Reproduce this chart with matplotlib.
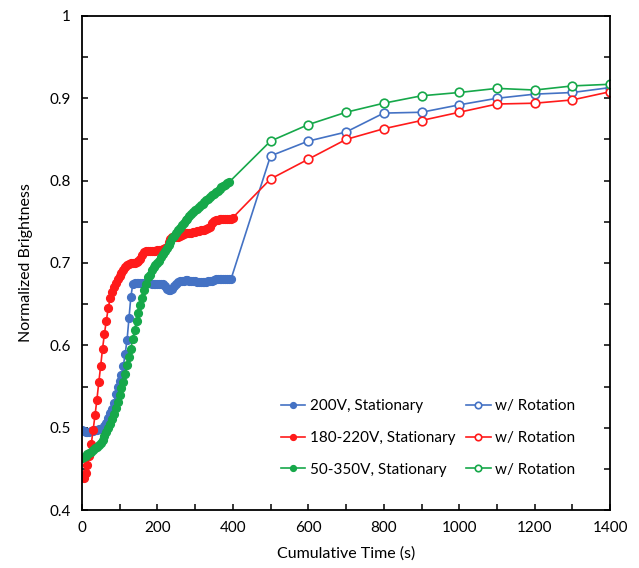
import matplotlib.pyplot as plt
import numpy as np
from matplotlib.ticker import MultipleLocator, FuncFormatter

plt.rcParams['font.family'] = ['Lato', 'DejaVu Sans']

# stationary runs, one reading every 5 s
t_200 = np.arange(0, 400, 5)
v_200 = [0.497, 0.496, 0.495, 0.495, 0.495, 0.496, 0.496, 0.497, 0.497, 0.498,
         0.498, 0.499, 0.502, 0.506, 0.512, 0.518, 0.523, 0.530, 0.541, 0.550,
         0.557, 0.564, 0.575, 0.590, 0.607, 0.633, 0.659, 0.674, 0.676, 0.676,
         0.676, 0.676, 0.676, 0.676, 0.676, 0.676, 0.676, 0.675, 0.675, 0.675,
         0.675, 0.675, 0.675, 0.675, 0.672, 0.669, 0.667, 0.667, 0.669, 0.672,
         0.675, 0.677, 0.678, 0.678, 0.678, 0.679, 0.679, 0.678, 0.678, 0.678,
         0.678, 0.677, 0.677, 0.677, 0.677, 0.677, 0.677, 0.678, 0.678, 0.678,
         0.679, 0.680, 0.680, 0.680, 0.680, 0.680, 0.680, 0.680, 0.680, 0.680]

t_180 = np.arange(5, 405, 5)
v_180 = [0.439, 0.445, 0.455, 0.466, 0.480, 0.497, 0.515, 0.534, 0.555, 0.575,
         0.596, 0.614, 0.630, 0.645, 0.657, 0.665, 0.671, 0.676, 0.680, 0.684,
         0.688, 0.692, 0.695, 0.697, 0.699, 0.700, 0.700, 0.700, 0.701, 0.702,
         0.705, 0.710, 0.713, 0.714, 0.715, 0.715, 0.715, 0.715, 0.715, 0.716,
         0.716, 0.716, 0.717, 0.718, 0.720, 0.725, 0.729, 0.731, 0.731, 0.732,
         0.732, 0.733, 0.734, 0.735, 0.736, 0.736, 0.737, 0.737, 0.738, 0.738,
         0.739, 0.739, 0.740, 0.740, 0.740, 0.741, 0.742, 0.744, 0.748, 0.751,
         0.752, 0.752, 0.753, 0.753, 0.753, 0.754, 0.754, 0.754, 0.754, 0.755]

t_50 = np.arange(0, 395, 5)
v_50 = [0.463, 0.464, 0.466, 0.468, 0.469, 0.471, 0.473, 0.475, 0.477, 0.479,
        0.482, 0.485, 0.490, 0.495, 0.500, 0.505, 0.510, 0.517, 0.524, 0.531,
        0.540, 0.548, 0.556, 0.565, 0.576, 0.586, 0.596, 0.608, 0.619, 0.630,
        0.639, 0.649, 0.658, 0.667, 0.675, 0.683, 0.686, 0.691, 0.695, 0.698,
        0.700, 0.703, 0.707, 0.711, 0.715, 0.718, 0.722, 0.726, 0.730, 0.733,
        0.737, 0.740, 0.743, 0.746, 0.749, 0.752, 0.754, 0.757, 0.759, 0.762,
        0.764, 0.766, 0.768, 0.770, 0.772, 0.774, 0.776, 0.778, 0.780, 0.782,
        0.784, 0.786, 0.788, 0.790, 0.792, 0.794, 0.795, 0.797, 0.798]

# with rotation
t_rot = [500, 600, 700, 800, 900, 1000, 1100, 1200, 1300, 1400]
r_200 = [0.830, 0.848, 0.859, 0.882, 0.883, 0.892, 0.900, 0.905, 0.907, 0.913]
r_180 = [0.802, 0.826, 0.850, 0.863, 0.873, 0.883, 0.893, 0.894, 0.898, 0.908]
r_50 = [0.848, 0.868, 0.883, 0.894, 0.903, 0.907, 0.912, 0.910, 0.915, 0.917]

blue = '#4472C4'
red = '#FF1A1A'
green = '#16A84A'

fig = plt.figure(figsize=(6.39, 5.68), dpi=100)
ax = fig.add_axes([0.128, 0.102, 0.827, 0.870])

handles = []
for t, v, c, lab in [(t_200, v_200, blue, '200V, Stationary'),
                     (t_180, v_180, red, '180-220V, Stationary'),
                     (t_50, v_50, green, '50-350V, Stationary')]:
    h, = ax.plot(t, v, '-o', color=c, lw=1.2, ms=5.6, mec=c, label=lab)
    handles.append(h)

# rotation curves start from the last stationary reading
for t, v, r, c in [(t_200, v_200, r_200, blue),
                   (t_180, v_180, r_180, red),
                   (t_50, v_50, r_50, green)]:
    xs = [t[-1]] + t_rot
    ys = [v[-1]] + r
    h, = ax.plot(xs, ys, '-o', color=c, lw=1.2, ms=6.2, mfc='white', mec=c,
                 mew=1.2, markevery=list(range(1, len(xs))), label='w/ Rotation')
    handles.append(h)

ax.set_xlim(0, 1400)
ax.set_ylim(0.4, 1.0)
ax.xaxis.set_major_locator(MultipleLocator(200))
ax.xaxis.set_minor_locator(MultipleLocator(100))
ax.yaxis.set_major_locator(MultipleLocator(0.1))
ax.yaxis.set_minor_locator(MultipleLocator(0.05))
ax.yaxis.set_major_formatter(FuncFormatter(lambda v, p: f'{v:g}'))
ax.tick_params(which='both', direction='in', length=4, width=1.1,
               right=True, labelsize=11, pad=8)
for s in ax.spines.values():
    s.set_linewidth(1.3)

ax.set_xlabel('Cumulative Time (s)', fontsize=11.5, labelpad=8)
ax.set_ylabel('Normalized Brightness', fontsize=11.5, labelpad=12)

ax.legend(handles=handles, ncol=2, loc='lower right', bbox_to_anchor=(0.96, 0.04),
          frameon=False, fontsize=11, handlelength=1.6, handletextpad=0.3,
          columnspacing=0.7, labelspacing=1.15, markerscale=0.75)

fig.savefig('out.png', dpi=100)
